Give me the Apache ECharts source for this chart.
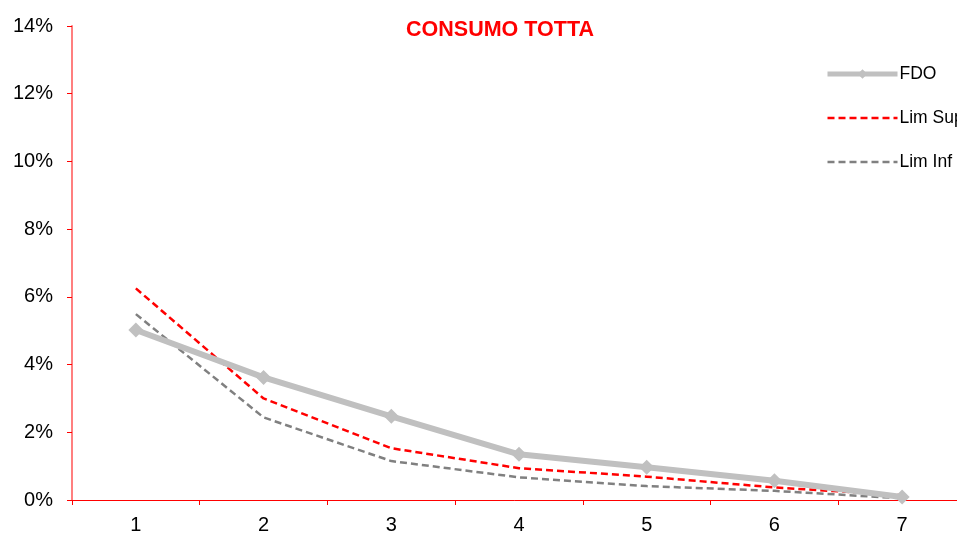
<!DOCTYPE html>
<html><head><meta charset="utf-8">
<script src="https://cdn.jsdelivr.net/npm/echarts@6/dist/echarts.min.js"></script>
<style>html,body{margin:0;padding:0;background:#fff}#c{width:957px;height:533px}</style>
</head><body><div id="c"></div>
<script>
const categories = ['1','2','3','4','5','6','7'];
const fdo = [5.02, 3.62, 2.47, 1.35, 0.97, 0.57, 0.09];
const limSup = [6.25, 3.00, 1.53, 0.94, 0.69, 0.37, 0.14];
const limInf = [5.49, 2.44, 1.15, 0.67, 0.41, 0.27, 0.05];
const chart = echarts.init(document.getElementById('c'));
const font = 'Liberation Sans, Arial, sans-serif';
chart.setOption({
  animation: false,
  title: {text: 'CONSUMO TOTTA', left: 495, top: 14, textAlign: 'center',
    textStyle: {color: '#ff0000', fontSize: 21.5, fontWeight: 'bold', fontFamily: font}},
  legend: {orient: 'vertical', left: 820, top: 60, itemGap: 26, itemWidth: 70, itemHeight: 12,
    textStyle: {fontSize: 17.5, fontFamily: font, color: '#000', padding: [0,0,0,-3]},
    data: [{name: 'FDO', lineStyle: {width: 5}},
           {name: 'Lim Sup', itemStyle: {opacity: 0}, lineStyle: {width: 2.5}},
           {name: 'Lim Inf', itemStyle: {opacity: 0}, lineStyle: {width: 2.5}}]},
  grid: {left: 72, top: 26, height: 474, width: 894, containLabel: false, outerBoundsMode: 'none'},
  xAxis: {type: 'category', data: categories, boundaryGap: true,
    axisLine: {lineStyle: {color: '#ff0000', width: 1}},
    axisTick: {show: true, length: 5, lineStyle: {color: '#ff0000'}},
    axisLabel: {margin: 15, fontSize: 20, color: '#000', fontFamily: font},
    splitLine: {show: false}},
  yAxis: {type: 'value', min: 0, max: 14, interval: 2,
    axisLine: {show: true, lineStyle: {color: '#ff7f7f', width: 2}},
    axisTick: {show: true, length: 5, lineStyle: {color: '#ff0000'}},
    axisLabel: {formatter: '{value}%', margin: 19, fontSize: 20, color: '#000', fontFamily: font},
    splitLine: {show: false}},
  series: [
    {name: 'FDO', type: 'line', data: fdo, symbol: 'diamond', symbolSize: 15, showSymbol: true,
      lineStyle: {color: '#c0c0c0', width: 6}, itemStyle: {color: '#c0c0c0'}, z: 3},
    {name: 'Lim Sup', type: 'line', data: limSup, showSymbol: false, symbol: 'none',
      lineStyle: {color: '#ff0000', width: 2.5, type: [7, 4]}, itemStyle: {color: '#ff0000'}, z: 2},
    {name: 'Lim Inf', type: 'line', data: limInf, showSymbol: false, symbol: 'none',
      lineStyle: {color: '#808080', width: 2.5, type: [7, 4]}, itemStyle: {color: '#808080'}, z: 2}
  ]
});
</script></body></html>
